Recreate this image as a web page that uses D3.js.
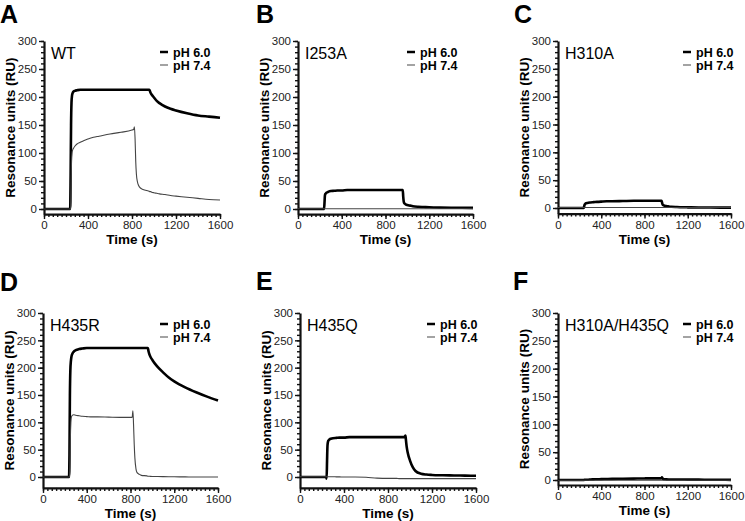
<!DOCTYPE html>
<html>
<head>
<meta charset="utf-8">
<script src="https://cdn.jsdelivr.net/npm/d3@7"></script>
<style>
  body { margin: 0; background: #fff; }
  text { font-family: "Liberation Sans", Arial, sans-serif; }
</style>
</head>
<body>
<div id="chart"></div>
<script>
// shared time grid (s)
var timeS = [0, 100, 200, 238, 242, 246, 250, 255, 260, 270, 280, 300, 330, 360, 400, 450, 500, 600, 700, 800,
  815, 822, 828, 834, 840, 850, 860, 880, 900, 950, 958, 962, 966, 970, 980, 1000, 1025, 1050, 1100, 1150,
  1200, 1300, 1400, 1500, 1600]

var panelLetters = ["A", "B", "C", "D", "E", "F"]
var mutants = ["WT", "I253A", "H310A", "H435R", "H435Q", "H310A/H435Q"]
var legendLabels = ["pH 6.0", "pH 7.4"]
var yTicks = [0, 50, 100, 150, 200, 250, 300]
var xTicks = [0, 400, 800, 1200, 1600]

// resonance units per series
var wt60 = [0, 0, 0, 0, 60, 150, 190, 203, 207, 210, 211, 212, 213, 213, 213, 213, 213, 213, 213, 213,
  213, 213, 213, 213, 213, 213, 213, 213, 213, 213, 213, 211, 209, 207, 204, 199, 193, 189, 183, 179,
  176, 171, 167, 165, 163]
var wt74 = [0, 0, 0, 0, 0, 40, 85, 100, 105, 109, 112, 116, 119, 122, 125, 128, 130, 134, 137, 141,
  142, 147, 125, 85, 62, 48, 42, 37, 35, 32, 31.5, 31, 31, 31, 30, 29, 28, 27, 26, 24,
  23, 21, 19, 17, 16]
var i253a60 = [0, 0, 0, 0, 10, 24, 27, 28, 29, 30, 31, 32, 32.5, 33, 33, 34, 34, 34, 34, 34,
  34, 34, 34, 34, 34, 34, 34, 34, 34, 34, 34, 22, 14, 11, 9, 7, 6, 5, 4, 3.5,
  3, 2.5, 2.3, 2.1, 2]
var i253a74 = [0.5, 0.5, 0.5, 0.5, 0.5, 0.5, 0.5, 0.5, 0.5, 0.5, 0.5, 0.5, 0.5, 0.5, 0.5, 0.5, 0.5, 0.5, 0.5, 0.5,
  0.5, 0.5, 0.5, 0.5, 0.5, 0.5, 0.5, 0.5, 0.5, 0.5, 0.5, 0.5, 0.5, 0.5, 0.5, 0.5, 0.5, 0.5, 0.5, 0.5,
  0.5, 0.5, 0.5, 0.5, 0.5]
var h310a60 = [0, 0, 0, 0, 3, 6, 7, 8, 8.5, 9, 9.5, 10, 10.5, 11, 11.5, 12, 12, 12.5, 13, 13,
  13, 13, 13, 13, 13, 13, 13, 13, 13, 13, 13, 10, 7, 5.5, 4.5, 3.5, 2.8, 2.3, 1.8, 1.4,
  1.2, 1, 0.8, 0.7, 0.6]
var h310a74 = [1, 1, 1, 1, 1, 1, 1, 1, 1, 1, 1, 1, 1, 1, 1, 1, 1, 1, 1, 1,
  1, 1, 1, 1, 1, 1, 1, 1, 1, 1, 1, 1, 1, 1, 1, 1, 1, 1, 1, 1,
  1, 1, 1, 1, 1]
var h435r60 = [0, 0, 0, 0, 40, 150, 195, 212, 220, 226, 229, 232, 234, 235, 236, 236, 236, 236, 236, 236,
  236, 236, 236, 236, 236, 236, 236, 236, 236, 236, 236, 233, 229, 226, 221, 214, 207, 201, 191, 182,
  175, 164, 155, 147, 140]
var h435r74 = [0, 0, 0, 0, 0, 20, 70, 100, 110, 113, 114, 113, 112, 111, 110.5, 110, 110, 109.5, 109, 109,
  109, 121, 95, 60, 35, 15, 8, 5, 3, 2, 1.5, 1.5, 1.5, 1.5, 1.2, 1, 1, 0.8, 0.6, 0.5,
  0.4, 0.2, 0, 0, 0]
var h435q60 = [0, 0, 0, 0, -3, 30, 58, 65, 67, 69, 70, 71, 71.5, 72, 72, 73, 73, 73, 73, 73,
  73, 73, 73, 73, 73, 73, 73, 73, 73, 73, 76, 70, 62, 55, 44, 30, 18, 11, 6, 4.5,
  3.8, 3.2, 2.8, 2.5, 2.3]
var h435q74 = [0.5, 0.5, 0.5, 0.5, 0.5, 0.5, 0.5, 0.5, 0.5, 0.5, 0.5, 0.5, 0.3, 0.2, 0, 0, 0, -0.5, -2, -2.5,
  -2.5, -2.5, -2.5, -2.5, -2.5, -2.5, -2.5, -2.5, -3, -3, -3, -3, -3, -3, -3, -3, -3, -3, -3, -3,
  -3, -3, -3, -3, -3]
var dbl60 = [0, 0, 0, 0, 0.5, 0.5, 0.5, 0.5, 0.5, 0.5, 0.5, 1, 1.2, 1.4, 1.5, 1.8, 2, 2.2, 2.5, 2.8,
  3, 3, 3, 3, 3, 3, 3, 3, 3, 3, 3.5, 5, 3, 2, 1.5, 1.2, 1, 1, 0.9, 0.8,
  0.7, 0.6, 0.5, 0.4, 0.3]
var dbl74 = [-0.5, -0.5, -0.5, -0.5, -0.5, -0.5, -0.5, -0.5, -0.5, -0.5, -0.5, -0.5, -0.5, -0.5, -0.5, -0.5, -0.5, -0.5, -0.5, -0.5,
  -0.5, -0.5, -0.5, -0.5, -0.5, -0.5, -0.5, -0.5, -0.5, -0.5, -0.5, -0.5, -0.5, -0.5, -0.5, -0.5, -0.5, -0.5, -0.5, -0.5,
  -0.5, -0.5, -0.5, -0.5, -0.5]

var series = [[wt60, wt74], [i253a60, i253a74], [h310a60, h310a74],
  [h435r60, h435r74], [h435q60, h435q74], [dbl60, dbl74]]

// panel layout: y-axis x, 1600 s x, 300 RU y, 0 RU y, bottom of axis (RU), legend x, letter x/y
var layout = [
  {x0: 44, x1: 220, yTop: 41, yZero: 209, yMin: -9, legX: 160, letX: 0, letY: 23},
  {x0: 298, x1: 473, yTop: 41, yZero: 209, yMin: -9, legX: 407, letX: 256, letY: 23},
  {x0: 558, x1: 731, yTop: 41, yZero: 208, yMin: -10, legX: 683, letX: 514, letY: 23},
  {x0: 43, x1: 218, yTop: 313, yZero: 477, yMin: -20, legX: 160, letX: 0, letY: 291},
  {x0: 300, x1: 476, yTop: 313, yZero: 477, yMin: -20, legX: 427, letX: 256, letY: 290},
  {x0: 558, x1: 731, yTop: 313, yZero: 480, yMin: -9, legX: 683, letX: 513, letY: 290}
]

var svg = d3.select("#chart")
  .append("svg")
  .attr("width", 745)
  .attr("height", 521)

layout.forEach(function(p, i) {
  var g = svg.append("g")
  var k = (p.yZero - p.yTop) / 300
  var yBottom = p.yZero - p.yMin * k

  var x = d3.scaleLinear().domain([0, 1600]).range([p.x0, p.x1])
  var y = d3.scaleLinear().domain([p.yMin, 300]).range([yBottom, p.yTop])

  // minor ticks
  g.append("g")
    .attr("transform", "translate(" + p.x0 + ",0)")
    .call(d3.axisLeft(y).tickValues(d3.range(0, 301, 10)).tickSize(3).tickSizeOuter(0).tickFormat(""))
    .call(function(a) { a.select(".domain").remove() })
  g.append("g")
    .attr("transform", "translate(0," + yBottom + ")")
    .call(d3.axisBottom(x).tickValues(d3.range(0, 1601, 40)).tickSize(3).tickSizeOuter(0).tickFormat(""))
    .call(function(a) { a.select(".domain").remove() })

  // major axes
  g.append("g")
    .attr("transform", "translate(" + p.x0 + ",0)")
    .call(d3.axisLeft(y).tickValues(yTicks).tickSize(5).tickSizeOuter(0).tickPadding(2).tickFormat(d3.format("d")))
  g.append("g")
    .attr("transform", "translate(0," + yBottom + ")")
    .call(d3.axisBottom(x).tickValues(xTicks).tickSize(5).tickSizeOuter(0).tickPadding(2).tickFormat(d3.format("d")))

  g.selectAll(".tick line").attr("stroke", "#111").attr("stroke-width", 1.4)
  g.selectAll(".domain").attr("stroke", "#111").attr("stroke-width", 2.2)
  g.selectAll(".tick text").attr("font-size", 11.5).attr("fill", "#222")
    .attr("font-family", "Liberation Sans, Arial, sans-serif")

  // titles
  g.append("text")
    .attr("transform", "translate(" + (p.x0 - 29) + "," + ((p.yTop + yBottom) / 2) + ") rotate(-90)")
    .attr("text-anchor", "middle")
    .attr("font-size", 13.5).attr("font-weight", "bold")
    .text("Resonance units (RU)")
  g.append("text")
    .attr("x", (p.x0 + p.x1) / 2).attr("y", yBottom + 30)
    .attr("text-anchor", "middle")
    .attr("font-size", 13.5).attr("font-weight", "bold")
    .text("Time (s)")

  g.append("text")
    .attr("x", p.letX).attr("y", p.letY)
    .attr("font-size", 25).attr("font-weight", "bold")
    .text(panelLetters[i])

  g.append("text")
    .attr("x", p.x0 + 7).attr("y", p.yTop + 18)
    .attr("font-size", 16)
    .text(mutants[i])

  // legend
  legendLabels.forEach(function(lab, j) {
    var ly = p.yTop + 11 + j * 13
    g.append("line")
      .attr("x1", p.legX).attr("x2", p.legX + 8)
      .attr("y1", ly).attr("y2", ly)
      .attr("stroke", j == 0 ? "#000" : "#666")
      .attr("stroke-width", j == 0 ? 2.5 : 1.2)
    g.append("text")
      .attr("x", p.legX + 13).attr("y", ly + 4.5)
      .attr("font-size", 12.5).attr("font-weight", "bold")
      .text(lab)
  })

  // curves
  var line = d3.line()
    .x(function(d) { return x(d[0]) })
    .y(function(d) { return y(d[1]) })
    .curve(d3.curveMonotoneX)

  series[i].forEach(function(vals, j) {
    var pts = timeS.map(function(t, n) { return [t, vals[n]] })
    g.append("path")
      .datum(pts)
      .attr("d", line)
      .attr("fill", "none")
      .attr("stroke", j == 0 ? "#000" : "#444")
      .attr("stroke-width", j == 0 ? 2.6 : 1.1)
  })
})
</script>
</body>
</html>
